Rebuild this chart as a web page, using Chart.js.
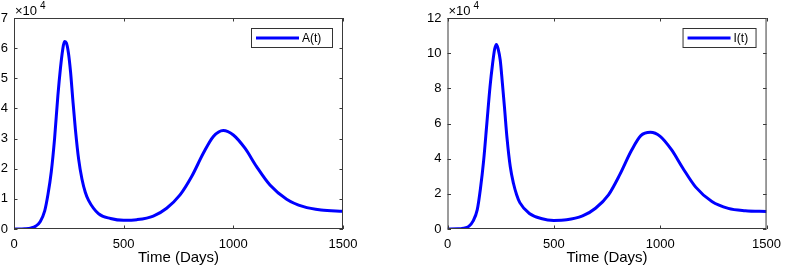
<!DOCTYPE html>
<html>
<head>
<meta charset="utf-8">
<script src="https://cdn.jsdelivr.net/npm/chart.js@4.4.1/dist/chart.umd.min.js"></script>
<style>
    html, body { margin: 0; padding: 0; background: #fff; }
    #wrap { position: relative; width: 789px; height: 269px; }
    canvas { position: absolute; top: 0; }
</style>
</head>
<body>
<div id="wrap">
    <canvas id="chartA" width="395" height="269" style="left:0"></canvas>
    <canvas id="chartI" width="394" height="269" style="left:395px"></canvas>
</div>
<script>
// time in days
const tDays = [0, 50, 75, 100, 120, 140, 155, 170, 185, 200, 212, 222, 230, 238, 248, 258, 268, 280, 295, 310, 325, 340,
    385, 440, 500, 560, 635, 696, 757, 810, 863, 909, 954, 1000, 1053, 1106, 1167, 1243, 1320, 1400, 1500];

// A(t), in units of 10^4
const aValues = [0, 0.01, 0.03, 0.10, 0.25, 0.60, 1.15, 1.9, 3.0, 4.42, 5.35, 5.95, 6.22, 6.18, 5.85, 5.2, 4.3, 3.3, 2.3, 1.65, 1.22, 0.95,
    0.51, 0.35, 0.29, 0.31, 0.43, 0.69, 1.13, 1.74, 2.51, 3.07, 3.27, 3.12, 2.68, 2.07, 1.46, 0.99, 0.74, 0.63, 0.59];

// I(t), in units of 10^4
const iValues = [0, 0.01, 0.05, 0.15, 0.45, 1.1, 2.3, 3.9, 6.0, 8.1, 9.4, 10.25, 10.5, 10.25, 9.6, 8.3, 6.9, 5.15, 3.55, 2.6, 1.95, 1.5,
    0.88, 0.6, 0.49, 0.52, 0.74, 1.18, 1.94, 3.09, 4.42, 5.31, 5.5, 5.27, 4.51, 3.47, 2.38, 1.56, 1.17, 1.04, 0.99];

const xTicks = [0, 500, 1000, 1500];
const FONT = "'Liberation Sans', Arial, Helvetica, sans-serif";

// box, inward ticks, x10^4 label and boxed legend, MATLAB style
const matlabFrame = {
    id: "matlabFrame",
    afterDraw(chart, args, opts) {
        const ctx = chart.ctx;
        const a = chart.chartArea;
        const xs = chart.scales.x, ys = chart.scales.y;
        const tl = 3.5;
        ctx.save();
        ctx.strokeStyle = "#3a3a3a";
        ctx.lineWidth = 1;
        ctx.strokeRect(a.left + 0.5, a.top + 0.5, a.right - a.left - 1, a.bottom - a.top - 1);
        ctx.beginPath();
        xs.ticks.forEach(t => {
            const px = Math.round(xs.getPixelForValue(t.value)) + 0.5;
            ctx.moveTo(px, a.bottom); ctx.lineTo(px, a.bottom - tl);
            ctx.moveTo(px, a.top); ctx.lineTo(px, a.top + tl);
        });
        ys.ticks.forEach(t => {
            const py = Math.round(ys.getPixelForValue(t.value)) + 0.5;
            ctx.moveTo(a.left, py); ctx.lineTo(a.left + tl, py);
            ctx.moveTo(a.right, py); ctx.lineTo(a.right - tl, py);
        });
        ctx.stroke();

        // exponent label
        ctx.fillStyle = "#000";
        ctx.textBaseline = "alphabetic";
        ctx.textAlign = "left";
        ctx.font = "13px " + FONT;
        ctx.fillText("\u00d710", a.left + 1, 15);
        const w = ctx.measureText("\u00d710").width;
        ctx.font = "10px " + FONT;
        ctx.fillText("4", a.left + w + 4, 9);

        // legend
        const bx = a.right - opts.legendW - 11, by = 28, bw = opts.legendW, bh = 19;
        ctx.fillStyle = "#fff";
        ctx.fillRect(bx, by, bw, bh);
        ctx.strokeStyle = "#333";
        ctx.strokeRect(bx + 0.5, by + 0.5, bw, bh);
        ctx.strokeStyle = "#0000ff";
        ctx.lineWidth = 3;
        ctx.beginPath();
        ctx.moveTo(bx + 5, by + 10); ctx.lineTo(bx + 48, by + 10);
        ctx.stroke();
        ctx.fillStyle = "#000";
        ctx.font = "12px " + FONT;
        ctx.textBaseline = "middle";
        ctx.fillText(chart.data.datasets[0].label, bx + 51, by + 10.5);
        ctx.restore();
    }
};

function makeChart(id, label, values, yMax, yStep, yAxisWidth, padRight, legendW) {
    return new Chart(document.getElementById(id), {
        type: "line",
        data: {
            datasets: [{
                label: label,
                data: tDays.map((t, i) => ({ x: t, y: values[i] * 1e4 })),
                borderColor: "#0000ff",
                borderWidth: 3,
                pointRadius: 0,
                fill: false,
                cubicInterpolationMode: "monotone"
            }]
        },
        options: {
            responsive: false,
            animation: false,
            devicePixelRatio: 1,
            layout: { padding: { top: 18, right: padRight, left: 0, bottom: 0 } },
            plugins: {
                legend: { display: false },
                tooltip: { enabled: false },
                matlabFrame: { legendW: legendW }
            },
            scales: {
                x: {
                    type: "linear",
                    min: 0, max: 1500,
                    afterBuildTicks: s => { s.ticks = xTicks.map(v => ({ value: v })); },
                    afterFit: s => { s.height = 40; },
                    grid: { display: false, drawTicks: false },
                    border: { display: false },
                    ticks: { color: "#000", font: { family: FONT, size: 13 }, padding: 8, maxRotation: 0, callback: v => String(v) },
                    title: { display: true, text: "Time (Days)", color: "#000", font: { family: FONT, size: 15 }, padding: { top: 0, bottom: 2 } }
                },
                y: {
                    min: 0, max: yMax,
                    afterFit: s => { s.width = yAxisWidth; },
                    grid: { display: false, drawTicks: false },
                    border: { display: false },
                    ticks: {
                        stepSize: yStep,
                        color: "#000",
                        font: { family: FONT, size: 13 },
                        padding: 6,
                        callback: v => String(v / 1e4)
                    }
                }
            }
        },
        plugins: [matlabFrame]
    });
}

makeChart("chartA", "A(t)", aValues, 70000, 10000, 14, 52, 81);
makeChart("chartI", "I(t)", iValues, 120000, 20000, 52.5, 12.5, 73);
</script>
</body>
</html>
